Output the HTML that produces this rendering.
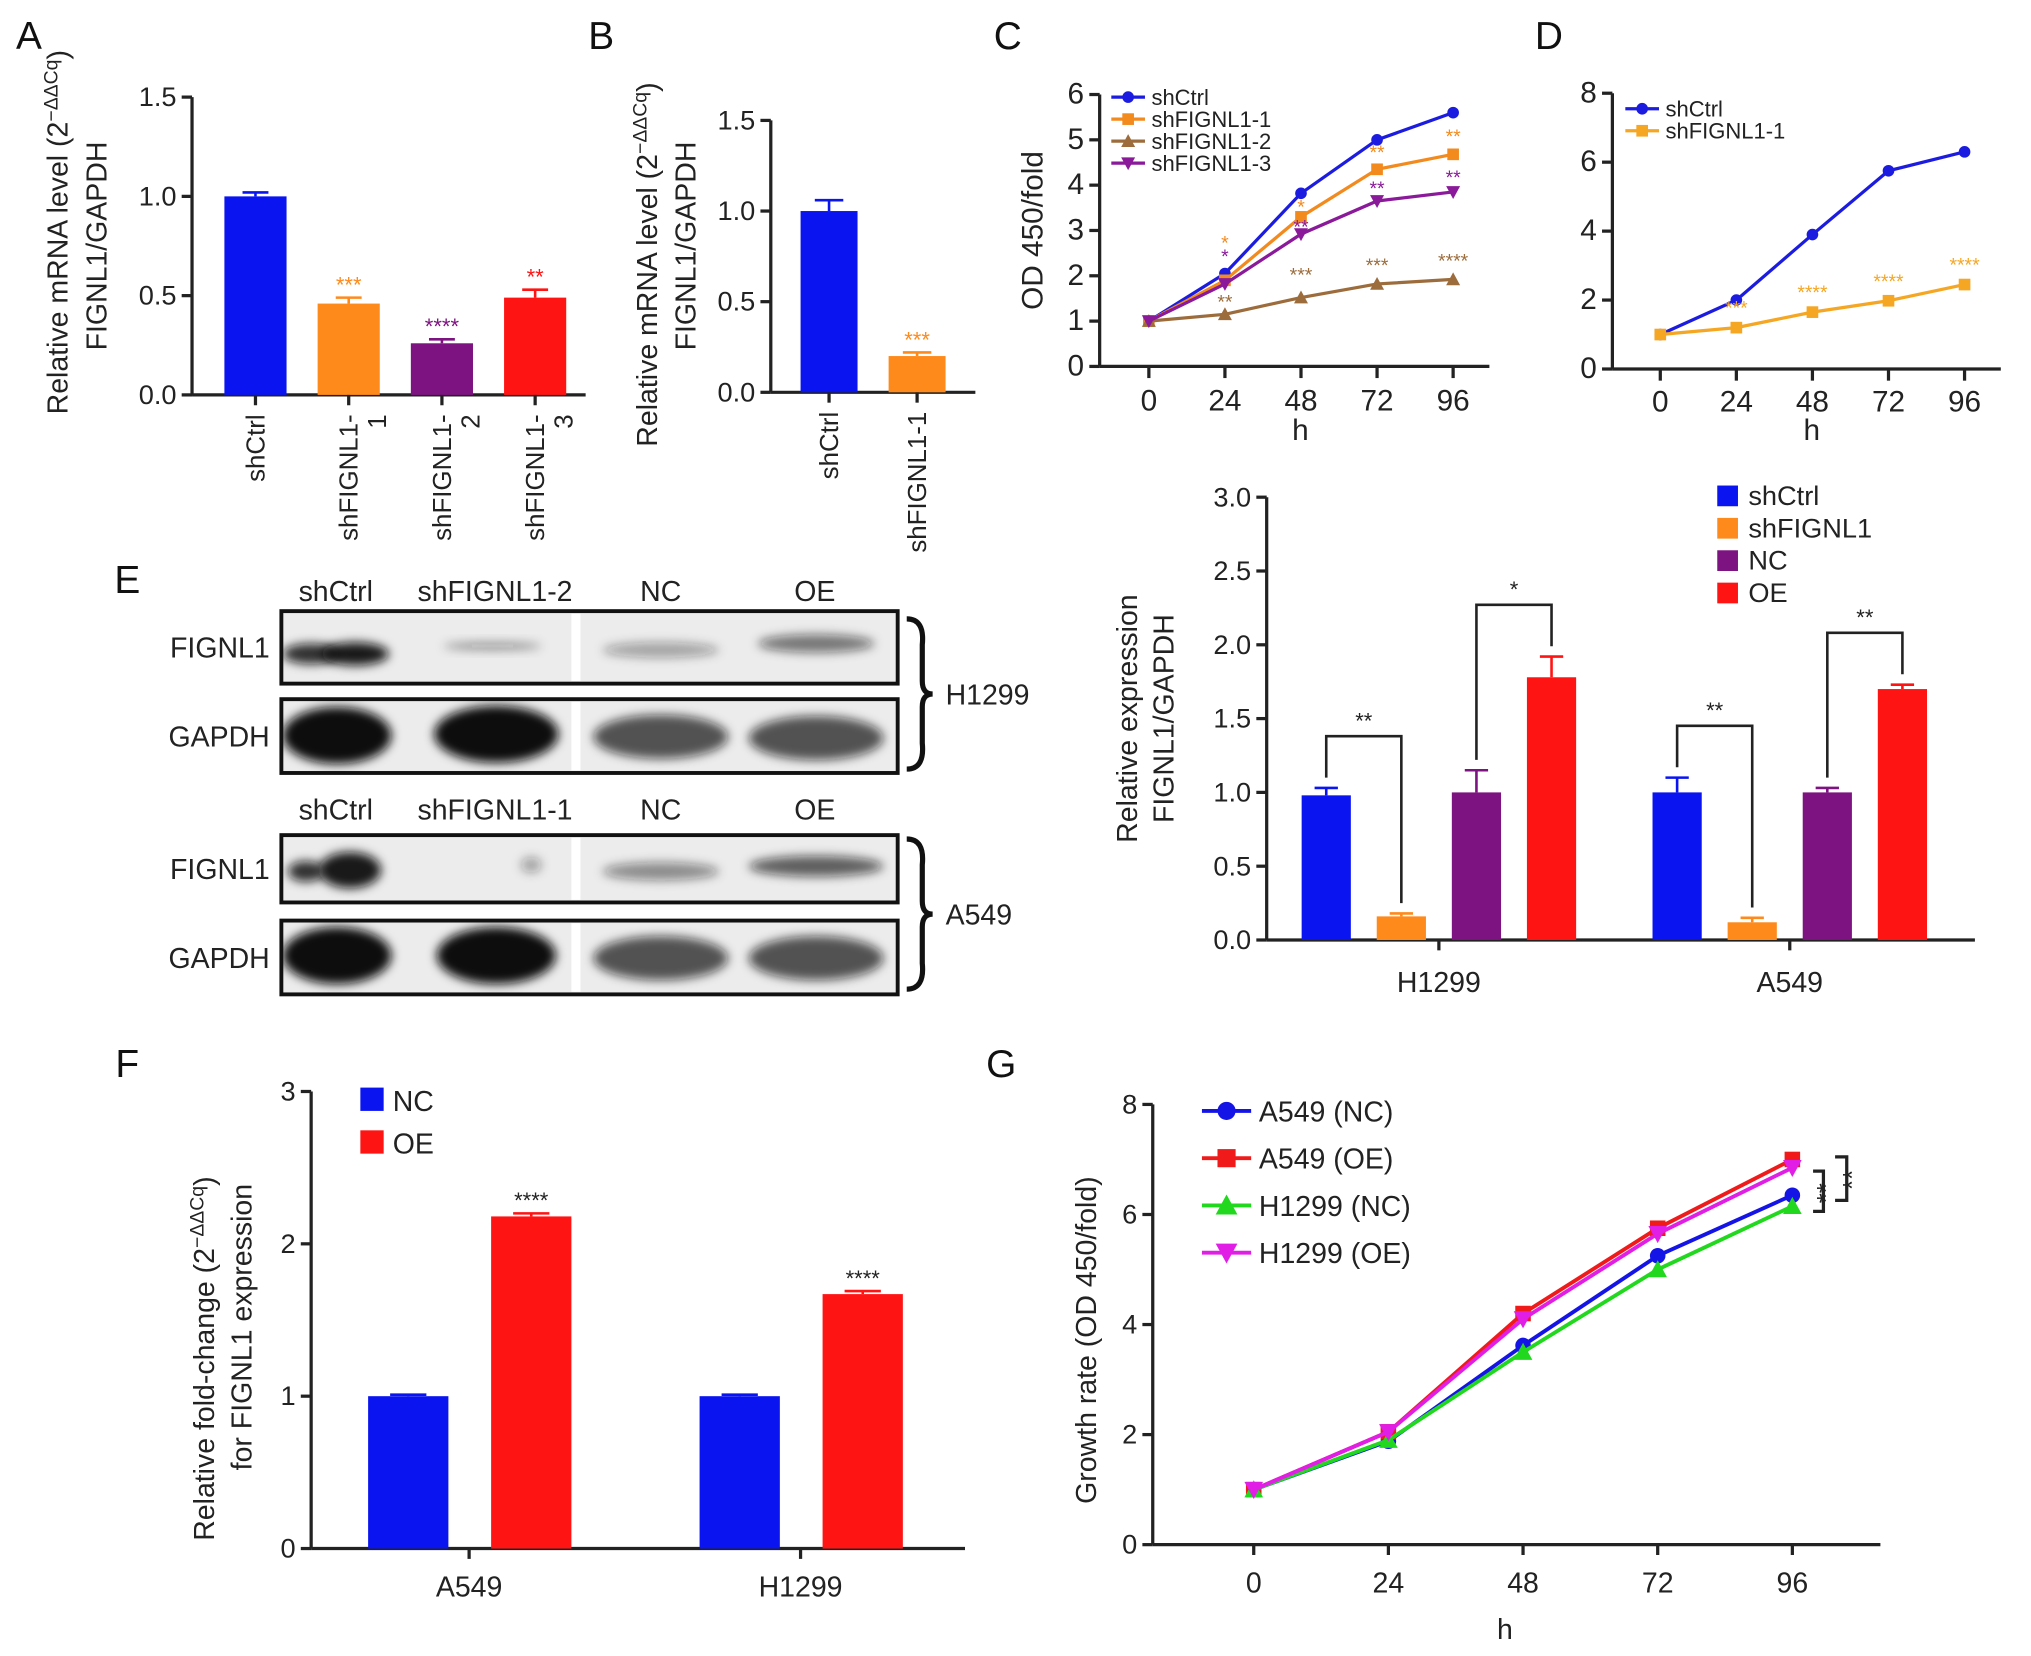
<!DOCTYPE html>
<html><head><meta charset="utf-8">
<style>
html,body{margin:0;padding:0;background:#fff;}
svg{display:block;font-family:"Liberation Sans",Arial,sans-serif;}
</style></head>
<body>
<svg id="fig" width="2031" height="1656" viewBox="0 0 1568 1279" xmlns="http://www.w3.org/2000/svg">
<defs>
<filter id="blur4" x="-50%" y="-100%" width="200%" height="300%"><feGaussianBlur stdDeviation="4"/></filter>
<clipPath id="clip0"><rect x="217" y="472" width="476" height="56"/></clipPath>
<clipPath id="clip1"><rect x="217" y="540" width="476" height="57"/></clipPath>
<clipPath id="clip2"><rect x="217" y="645" width="476" height="52"/></clipPath>
<clipPath id="clip3"><rect x="217" y="711" width="476" height="57"/></clipPath>
</defs>
</svg>
<script>
// ---------- DATA ----------
const aCats = ["shCtrl","shFIGNL1-\n1","shFIGNL1-\n2","shFIGNL1-\n3"];
const aVals = [1.0,0.46,0.26,0.49];
const aErr = [0.02,0.03,0.02,0.04];
const aStars = ["","***","****","**"];
const aTicks = [0,0.5,1.0,1.5];

const bCats = ["shCtrl","shFIGNL1-1"];
const bVals = [1.0,0.2];
const bErr = [0.06,0.02];
const bStars = ["","***"];
const bTicks = [0,0.5,1.0,1.5];

const cX = [0,24,48,72,96];
const cNames = ["shCtrl","shFIGNL1-1","shFIGNL1-2","shFIGNL1-3"];
const cCtrl = [1,2.05,3.82,5.0,5.6];
const cSh1 = [1,1.9,3.3,4.35,4.68];
const cSh2 = [1,1.15,1.52,1.82,1.92];
const cSh3 = [1,1.82,2.92,3.65,3.85];
const cTicks = [0,1,2,3,4,5,6];

const dNames = ["shCtrl","shFIGNL1-1"];
const dCtrl = [1,2.0,3.9,5.75,6.3];
const dSh1 = [1,1.2,1.65,1.98,2.45];
const dTicks = [0,2,4,6,8];

const eGroups = ["H1299","A549"];
const eSeries = ["shCtrl","shFIGNL1","NC","OE"];
const eH1299 = [0.98,0.16,1.0,1.78];
const eA549 = [1.0,0.12,1.0,1.7];
const eErrH = [0.05,0.02,0.15,0.14];
const eErrA = [0.1,0.03,0.03,0.03];
const eTicks = [0,0.5,1.0,1.5,2.0,2.5,3.0];

const fGroups = ["A549","H1299"];
const fNC = [1.0,1.0];
const fOE = [2.18,1.67];
const fErrOE = [0.02,0.02];
const fTicks = [0,1,2,3];

const gX = [0,24,48,72,96];
const gNames = ["A549 (NC)","A549 (OE)","H1299 (NC)","H1299 (OE)"];
const gA549NC = [1,1.88,3.62,5.25,6.35];
const gA549OE = [1,2.05,4.2,5.75,7.0];
const gH1299NC = [1,1.9,3.5,5.0,6.15];
const gH1299OE = [1,2.05,4.1,5.65,6.85];
const gTicks = [0,2,4,6,8];

// ---------- HELPERS ----------
const NS = "http://www.w3.org/2000/svg";
const svg = document.getElementById('fig');
function mk(tag, attrs, parent){
  const e = document.createElementNS(NS, tag);
  for (const k in attrs) e.setAttribute(k, attrs[k]);
  (parent||svg).appendChild(e);
  return e;
}
function txt(s, x, y, size, parent, anchor, fill, rot){
  const t = mk('text', {x:x, y:y, 'font-size':size, 'text-anchor':anchor||'middle', fill:fill||'#222'}, parent);
  if (rot) t.setAttribute('transform', 'rotate('+rot+' '+x+' '+y+')');
  t.textContent = s;
  return t;
}
function lin(x1,y1,x2,y2,parent,w,c){
  return mk('line',{x1:x1,y1:y1,x2:x2,y2:y2,stroke:c||'#222','stroke-width':w||2.5},parent);
}
function group(name){
  const g = mk('g',{});
  
  
  return g;
}
function yAxis(g, ax, y0, y1, ticks, x2, fmt, size){
  const ys = v => y0 - (v - ticks[0])/(ticks[ticks.length-1]-ticks[0])*(y0-y1);
  const a = lin(ax, y0, ax, y1, g);
  
  
  const b = lin(ax, y0, x2, y0, g);
  
  
  ticks.forEach(v => {
    lin(ax-8, ys(v), ax, ys(v), g);
    const t = txt(fmt(v), ax-12, ys(v)+7, size||21, g, 'end');
    
    
  });
  return ys;
}
function errBar(g, x, yTop, yErr, w, c){
  lin(x, yTop, x, yErr, g, 2, c);
  lin(x-w, yErr, x+w, yErr, g, 2, c);
}
function panelLetter(s, x, y){
  const t = txt(s, x, y, 30, svg, 'middle', '#111');
  
  
}
const f1 = v => v.toFixed(1);
const f0 = v => String(v);

// ---------- PANEL A ----------
panelLetter('A', 22, 38);
(function(){
  const g = group('panel-a-chart');
  const ys = yAxis(g, 148, 305, 75, aTicks, 452, f1);
  const cols = ['#0a14f0','#ff8a1c','#7d1380','#ff1414'];
  const xs = i => 197 + i*72;
  aVals.forEach((v,i) => {
    const r = mk('rect',{x:xs(i)-24,y:ys(v),width:48,height:305-ys(v),fill:cols[i]},g);
    
    
    errBar(g, xs(i), ys(v), ys(v+aErr[i]), 10, cols[i]);
    if (aStars[i]) { const s = txt(aStars[i], xs(i), ys(v+aErr[i])-4, 17, g, 'middle', cols[i]);   }
    lin(xs(i),305,xs(i),313,g);
    const parts = aCats[i].split('\n');
    parts.forEach((p,j) => {
      const t = txt(p, xs(i)+7+j*22, 320, 20, g, 'end', '#222', -90);
      
      
    });
  });
  const t1 = txt('Relative mRNA level (2', 52, 320, 22, g, 'start', '#222', -90);
  
  
  const sup = mk('tspan',{dy:-8,'font-size':15},t1); sup.textContent='−ΔΔCq';
  const cl = mk('tspan',{dy:8},t1); cl.textContent=')';
  const t2 = txt('FIGNL1/GAPDH', 82, 190, 22, g, 'middle', '#222', -90);
  
  
})();

// ---------- PANEL B ----------
panelLetter('B', 464, 38);
(function(){
  const g = group('panel-b-chart');
  const ys = yAxis(g, 595, 303, 93, bTicks, 753, f1);
  const cols = ['#0a14f0','#ff8a1c'];
  const xs = i => 640 + i*68;
  bVals.forEach((v,i) => {
    const r = mk('rect',{x:xs(i)-22,y:ys(v),width:44,height:303-ys(v),fill:cols[i]},g);
    
    
    errBar(g, xs(i), ys(v), ys(v+bErr[i]), 11, cols[i]);
    if (bStars[i]) { const s = txt(bStars[i], xs(i), ys(v+bErr[i])-4, 17, g, 'middle', cols[i]);   }
    lin(xs(i),303,xs(i),311,g);
    const t = txt(bCats[i], xs(i)+7, 318, 20, g, 'end', '#222', -90);
    
    
  });
  const t1 = txt('Relative mRNA level (2', 507, 345, 22, g, 'start', '#222', -90);
  
  
  const sup = mk('tspan',{dy:-8,'font-size':15},t1); sup.textContent='−ΔΔCq';
  const cl = mk('tspan',{dy:8},t1); cl.textContent=')';
  const t2 = txt('FIGNL1/GAPDH', 537, 190, 22, g, 'middle', '#222', -90);
  
  
})();

// ---------- LINE CHART HELPER ----------
function marker(g, shape, x, y, r, c){
  let m;
  if (shape==='circle') m = mk('circle',{cx:x,cy:y,r:r,fill:c},g);
  else if (shape==='square') m = mk('rect',{x:x-r,y:y-r,width:2*r,height:2*r,fill:c},g);
  else if (shape==='tri') m = mk('polygon',{points:(x)+','+(y-r*1.2)+' '+(x-r*1.2)+','+(y+r)+' '+(x+r*1.2)+','+(y+r),fill:c},g);
  else m = mk('polygon',{points:(x)+','+(y+r*1.2)+' '+(x-r*1.2)+','+(y-r)+' '+(x+r*1.2)+','+(y-r),fill:c},g);
  return m;
}

// ---------- PANEL C ----------
panelLetter('C', 778, 38);
(function(){
  const g = group('panel-c-chart');
  const ys = yAxis(g, 849, 283, 73, cTicks, 1150, f0, 23);
  const xs = v => 887 + v/96*(1122-887);
  cX.forEach(v => { lin(xs(v),283,xs(v),292,g); const t = txt(String(v), xs(v), 317, 23, g);   });
  const xt = txt('h', 1004, 340, 23, g);  
  const yt = txt('OD 450/fold', 805, 178, 23, g, 'middle', '#222', -90);  
  const series = [cCtrl,cSh1,cSh2,cSh3];
  const cols = ['#1c1ce0','#f28a1e','#9c6c3c','#8a1a9a'];
  const shapes = ['circle','square','tri','down'];
  series.forEach((s,k) => {
    const pts = s.map((v,i) => xs(cX[i])+','+ys(v)).join(' ');
    const p = mk('polyline',{points:pts,fill:'none',stroke:cols[k],'stroke-width':2.5},g);
    
    
    s.forEach((v,i) => { const m = marker(g, shapes[k], xs(cX[i]), ys(v), 4.5, cols[k]);   });
    const ly = 75 + k*17;
    lin(858, ly, 884, ly, g, 2.5, cols[k]);
    marker(g, shapes[k], 871, ly, 4.5, cols[k]);
    const lt = txt(cNames[k], 889, ly+6, 17, g, 'start');
    
    
  });
  const ann = [[24,cSh1[1],'*',cols[1],2.75],[24,cSh3[1],'*',cols[3],2.45],[48,cSh1[2],'*',cols[1],3.55],[48,cSh3[2],'**',cols[3],3.1],[72,cSh1[3],'**',cols[1],4.75],[72,cSh3[3],'**',cols[3],3.95],[96,cSh1[4],'**',cols[1],5.1],[96,cSh3[4],'**',cols[3],4.2],[24,cSh2[1],'**',cols[2],1.45],[48,cSh2[2],'***',cols[2],2.05],[72,cSh2[3],'***',cols[2],2.25],[96,cSh2[4],'****',cols[2],2.35]];
  ann.forEach(a => { const s = txt(a[2], xs(a[0]), ys(a[4])+6, 15, g, 'middle', a[3]);   });
})();

// ---------- PANEL D ----------
panelLetter('D', 1196, 38);
(function(){
  const g = group('panel-d-chart');
  const ys = yAxis(g, 1245, 285, 72, dTicks, 1545, f0, 23);
  const xs = v => 1282 + v/96*(1517-1282);
  gX.forEach(v => { lin(xs(v),285,xs(v),294,g); const t = txt(String(v), xs(v), 318, 23, g);   });
  const xt = txt('h', 1399, 340, 23, g);  
  const series = [dCtrl,dSh1];
  const cols = ['#1c1ce0','#f5a623'];
  const shapes = ['circle','square'];
  series.forEach((s,k) => {
    const pts = s.map((v,i) => xs(gX[i])+','+ys(v)).join(' ');
    const p = mk('polyline',{points:pts,fill:'none',stroke:cols[k],'stroke-width':2.5},g);
    
    
    s.forEach((v,i) => { const m = marker(g, shapes[k], xs(gX[i]), ys(v), 4.5, cols[k]);   });
    const ly = 84 + k*17;
    lin(1255, ly, 1281, ly, g, 2.5, cols[k]);
    marker(g, shapes[k], 1268, ly, 4.5, cols[k]);
    const lt = txt(dNames[k], 1286, ly+6, 17, g, 'start');
    
    
  });
  const dStar = ['***','****','****','****'];
  for (let i=1;i<5;i++){ const s = txt(dStar[i-1], xs(gX[i]), ys(dSh1[i])-10, 15, g, 'middle', cols[1]);   }
})();

// ---------- PANEL E BLOTS ----------
panelLetter('E', 98, 458);
(function(){
  const g = group('western-blot');
  const rows = [
    {top:472,h:56,label:'FIGNL1',bands:[[240,505,22,8,0.85],[274,505,26,9,0.95],[380,499,38,3,0.4],[510,502,45,6,0.35],[630,497,45,7,0.55]]},
    {top:540,h:57,label:'GAPDH',bands:[[260,568,42,22,1],[383,567,48,22,1],[510,569,52,17,0.7],[630,570,52,17,0.7]]},
    {top:645,h:52,label:'FIGNL1',bands:[[236,673,14,8,0.85],[270,672,24,14,0.95],[410,668,8,6,0.35],[510,673,45,7,0.45],[630,669,52,8,0.65]]},
    {top:711,h:57,label:'GAPDH',bands:[[260,738,42,22,1],[383,738,46,22,1],[510,740,52,17,0.7],[630,740,52,17,0.7]]}
  ];
  rows.forEach((r,ri) => {
    mk('rect',{x:217,y:r.top,width:476,height:r.h,fill:'#ececec'},g);
    const bg = mk('g',{'clip-path':'url(#clip'+ri+')'},g);
    r.bands.forEach(b => {
      const e = mk('ellipse',{cx:b[0],cy:b[1],rx:b[2],ry:b[3],fill:'#111','fill-opacity':b[4],filter:'url(#blur4)'},bg);
      
      
    });
    mk('rect',{x:441,y:r.top+2,width:7,height:r.h-4,fill:'#fff'},g);
    const f = mk('rect',{x:217,y:r.top,width:476,height:r.h,fill:'none',stroke:'#111','stroke-width':3},g);
    
    
    const t = txt(r.label, 208, r.top+r.h/2+8, 22, g, 'end');
    
    
  });
  const hdr1 = ['shCtrl','shFIGNL1-2','NC','OE'];
  const hdr2 = ['shCtrl','shFIGNL1-1','NC','OE'];
  const hx = [259,382,510,629];
  hdr1.forEach((s,i) => { const t = txt(s, hx[i], 464, 22, g);   });
  hdr2.forEach((s,i) => { const t = txt(s, hx[i], 633, 22, g);   });
  [[478,594,'H1299'],[648,764,'A549']].forEach(b => {
    const m = (b[0]+b[1])/2;
    const p = mk('path',{d:'M700 '+b[0]+' Q714 '+b[0]+' 712 '+(b[0]+20)+' L712 '+(m-10)+' Q712 '+m+' 720 '+m+' Q712 '+m+' 712 '+(m+10)+' L712 '+(b[1]-20)+' Q714 '+b[1]+' 700 '+b[1],fill:'none',stroke:'#111','stroke-width':4},g);
    
    
    const t = txt(b[2], 730, m+8, 22, g, 'start');
    
    
  });
})();

// ---------- PANEL E CHART ----------
(function(){
  const g = group('panel-e-chart');
  const ys = yAxis(g, 978, 726, 384, eTicks, 1525, f1);
  const cols = ['#0a14f0','#ff8a1c','#7d1380','#ff1414'];
  const gx0 = [1024,1295];
  const step = 58;
  const data = [eH1299,eA549];
  const errs = [eErrH,eErrA];
  data.forEach((arr,gi) => {
    arr.forEach((v,i) => {
      const x = gx0[gi] + i*step;
      const r = mk('rect',{x:x-19,y:ys(v),width:38,height:726-ys(v),fill:cols[i]},g);
      
      
      errBar(g, x, ys(v), ys(v+errs[gi][i]), 9, cols[i]);
    });
    lin(gx0[gi]+1.5*step, 726, gx0[gi]+1.5*step, 734, g);
    const t = txt(eGroups[gi], gx0[gi]+1.5*step, 766, 22, g);
    
    
    const pairs = [[0,1,'**'],[2,3, gi===0?'*':'**']];
    pairs.forEach(p => {
      const xa = gx0[gi]+p[0]*step, xb = gx0[gi]+p[1]*step;
      const top = Math.min(ys(arr[p[0]]+errs[gi][p[0]]), ys(arr[p[1]]+errs[gi][p[1]])) - 40;
      const br = mk('polyline',{points:xa+','+(ys(arr[p[0]]+errs[gi][p[0]])-8)+' '+xa+','+top+' '+xb+','+top+' '+xb+','+(ys(arr[p[1]]+errs[gi][p[1]])-8),fill:'none',stroke:'#222','stroke-width':2},g);
      
      
      const s = txt(p[2], (xa+xb)/2, top-6, 17, g);
      
      
    });
  });
  eSeries.forEach((s,i) => {
    const r = mk('rect',{x:1326,y:375+i*25,width:16,height:16,fill:cols[i]},g);
    
    
    const t = txt(s, 1350, 390+i*25, 21, g, 'start');
    
    
  });
  const t1 = txt('Relative expression', 878, 555, 22, g, 'middle', '#222', -90);
  
  
  const t2 = txt('FIGNL1/GAPDH', 906, 555, 22, g, 'middle', '#222', -90);
  
  
})();

// ---------- PANEL F ----------
panelLetter('F', 98, 832);
(function(){
  const g = group('panel-f-chart');
  const ys = yAxis(g, 240, 1196, 843, fTicks, 745, f0);
  const gc = [362,618];
  fGroups.forEach((name,i) => {
    const xn = gc[i]-47, xo = gc[i]+48;
    const r1 = mk('rect',{x:xn-31,y:ys(fNC[i]),width:62,height:1196-ys(fNC[i]),fill:'#0a14f0'},g);
    
    
    errBar(g, xn, ys(fNC[i]), ys(fNC[i]+0.01), 14, '#0a14f0');
    const r2 = mk('rect',{x:xo-31,y:ys(fOE[i]),width:62,height:1196-ys(fOE[i]),fill:'#ff1414'},g);
    
    
    errBar(g, xo, ys(fOE[i]), ys(fOE[i]+fErrOE[i]), 14, '#ff1414');
    const s = txt('****', xo, ys(fOE[i]+fErrOE[i])-4, 17, g);
    
    
    lin(gc[i],1196,gc[i],1204,g);
    const t = txt(name, gc[i], 1233, 22, g);
    
    
  });
  [['NC','#0a14f0'],['OE','#ff1414']].forEach((l,i) => {
    const r = mk('rect',{x:278,y:840+i*33,width:18,height:18,fill:l[1]},g);
    
    
    const t = txt(l[0], 303, 858+i*33, 22, g, 'start');
    
    
  });
  const t1 = txt('Relative fold-change (2', 165, 1190, 22, g, 'start', '#222', -90);
  
  
  const sup = mk('tspan',{dy:-8,'font-size':15},t1); sup.textContent='−ΔΔCq';
  const cl = mk('tspan',{dy:8},t1); cl.textContent=')';
  const t2 = txt('for FIGNL1 expression', 194, 1025, 22, g, 'middle', '#222', -90);
  
  
})();

// ---------- PANEL G ----------
panelLetter('G', 773, 832);
(function(){
  const g = group('panel-g-chart');
  const ys = yAxis(g, 890, 1193, 853, gTicks, 1452, f0);
  const xs = v => 968 + v/96*(1384-968);
  gX.forEach(v => { lin(xs(v),1193,xs(v),1201,g); const t = txt(String(v), xs(v), 1230, 22, g);   });
  const xt = txt('h', 1162, 1266, 22, g);  
  const yt = txt('Growth rate (OD 450/fold)', 846, 1035, 22, g, 'middle', '#222', -90);  
  const series = [gA549NC,gA549OE,gH1299NC,gH1299OE];
  const cols = ['#1414e6','#f01a1a','#22d81e','#e01ee6'];
  const shapes = ['circle','square','tri','down'];
  series.forEach((s,k) => {
    const pts = s.map((v,i) => xs(gX[i])+','+ys(v)).join(' ');
    const p = mk('polyline',{points:pts,fill:'none',stroke:cols[k],'stroke-width':3},g);
    
    
    s.forEach((v,i) => { const m = marker(g, shapes[k], xs(gX[i]), ys(v), 6, cols[k]);   });
    const ly = 858 + k*36.5;
    lin(928, ly, 966, ly, g, 3, cols[k]);
    marker(g, shapes[k], 947, ly, 7, cols[k]);
    const lt = txt(gNames[k], 972, ly+8, 22, g, 'start');
    
    
  });
  const x96 = xs(96);
  const b1 = mk('polyline',{points:(x96+16)+','+(ys(gA549OE[4])+9)+' '+(x96+24)+','+(ys(gA549OE[4])+9)+' '+(x96+24)+','+(ys(gH1299NC[4])+4)+' '+(x96+16)+','+(ys(gH1299NC[4])+4),fill:'none',stroke:'#222','stroke-width':2.5},g);
  
  
  const b2 = mk('polyline',{points:(x96+33)+','+(ys(gA549OE[4])-2)+' '+(x96+42)+','+(ys(gA549OE[4])-2)+' '+(x96+42)+','+(ys(gA549NC[4])+4)+' '+(x96+33)+','+(ys(gA549NC[4])+4),fill:'none',stroke:'#222','stroke-width':2.5},g);
  
  
  const s1 = txt('**', x96+33, (ys(gA549OE[4])+ys(gH1299NC[4]))/2+8, 20, g, 'middle', '#222', -90);
  
  
  const s2 = txt('**', x96+53, (ys(gA549OE[4])+ys(gA549NC[4]))/2+2, 20, g, 'middle', '#222', -90);
  
  
})();
</script>
</body></html>
